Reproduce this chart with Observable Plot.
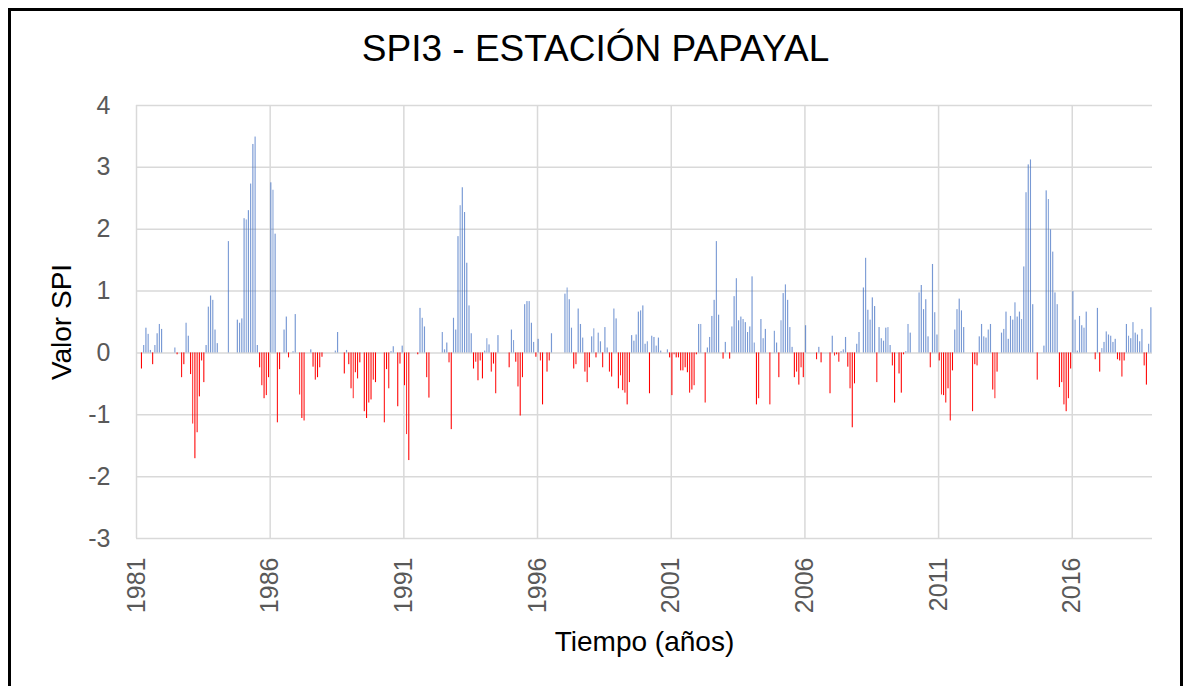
<!DOCTYPE html>
<html>
<head>
<meta charset="utf-8">
<script src="https://cdn.jsdelivr.net/npm/d3@7"></script>
<script src="https://cdn.jsdelivr.net/npm/@observablehq/plot@0.6"></script>
<style>
  html, body { margin: 0; padding: 0; background: #fff; overflow: hidden; }
  #wrap { position: relative; width: 1192px; height: 686px; overflow: hidden; }
  #chart { position: absolute; left: 0; top: 0; }
  #border { position: absolute; left: 8px; top: 8px; width: 1175px; height: 720px;
            border: 3px solid #000; box-sizing: border-box; }
  #title { position: absolute; left: 8px; top: 30px; width: 1175px; text-align: center;
           font-family: "Liberation Sans", Arial, sans-serif; font-size: 37px; line-height: 37px; color: #000; }
</style>
</head>
<body>
<div id="wrap">
  <div id="chart"></div>
  <div id="border"></div>
  <div id="title">SPI3 - ESTACIÓN PAPAYAL</div>
</div>
<script>
// Monthly SPI3 values, Jan 1981 – Dec 2018 (12 per row; first two months undefined)
const startYear = 1981;
const spi3 = [
  /*1981*/ null, null, -0.26, 0.12, 0.40, 0.30, 0.04, -0.19, 0.12, 0.31, 0.46, 0.38,
  /*1982*/ 0, 0, 0, 0, 0, 0.08, -0.03, 0, -0.40, -0.19, 0.48, 0.27,
  /*1983*/ -0.35, -1.15, -1.71, -1.29, -0.71, -0.13, -0.48, 0.12, 0.74, 0.92, 0.85, 0.37,
  /*1984*/ 0.15, 0, 0, 0, 0, 1.80, 0, 0, 0, 0.53, 0.48, 0.55,
  /*1985*/ 2.17, 2.15, 2.30, 2.73, 3.37, 3.49, 0.12, -0.24, -0.53, -0.74, -0.69, -0.40,
  /*1986*/ 2.75, 2.63, 1.92, -1.13, -0.27, 0, 0.37, 0.58, -0.08, 0, 0.02, 0.62,
  /*1987*/ 0, -0.68, -1.06, -1.10, 0, 0, 0.05, -0.23, -0.44, -0.40, -0.24, -0.07,
  /*1988*/ 0, 0, 0, 0, 0, 0.03, 0.33, 0, 0, -0.34, 0.04, -0.19,
  /*1989*/ -0.58, -0.74, -0.32, -0.42, -0.16, 0, -0.95, -1.06, -0.81, -0.76, -0.44, -0.48,
  /*1990*/ 0, 0, 0, -1.13, -0.27, -0.58, 0.02, 0.10, 0, -0.87, -0.18, 0.11,
  /*1991*/ -0.53, -1.32, -1.74, 0, 0, 0, -0.03, 0.72, 0.56, 0.42, -0.40, -0.73,
  /*1992*/ 0, 0, 0, 0, 0, 0.33, 0.05, 0.16, -0.16, -1.24, 0.56, 0.37,
  /*1993*/ 1.88, 2.38, 2.67, 2.27, 1.45, 0.76, 0.31, -0.26, -0.15, -0.45, -0.13, -0.42,
  /*1994*/ 0.03, 0.23, 0.13, -0.31, -0.18, -0.66, 0.28, 0, 0, 0, 0, -0.24,
  /*1995*/ 0.37, 0.20, -0.15, -0.55, -1.02, -0.40, 0.78, 0.83, 0.83, 0.48, 0.17, -0.07,
  /*1996*/ 0.22, -0.13, -0.84, 0, -0.31, -0.13, 0.31, 0, 0, 0, 0, 0,
  /*1997*/ 0.95, 1.05, 0.86, 0.40, -0.26, -0.19, 0.71, 0.46, 0.24, -0.31, -0.48, -0.24,
  /*1998*/ 0.26, 0.39, -0.08, 0.32, 0.18, -0.24, 0.41, 0.08, -0.31, -0.39, 0.71, 0.55,
  /*1999*/ -0.58, -0.37, -0.61, -0.65, -0.84, -0.48, 0.28, 0.19, 0.29, 0.66, 0.68, 0.76,
  /*2000*/ 0.14, 0.18, -0.66, 0.27, 0.25, 0.11, 0.24, 0.03, 0, 0, 0.05, -0.08,
  /*2001*/ -0.69, -0.03, -0.08, -0.08, -0.29, -0.29, -0.24, -0.32, -0.65, -0.60, -0.53, -0.03,
  /*2002*/ 0.46, 0.46, 0, -0.81, 0.08, 0.25, 0.59, 0.85, 1.80, 0.61, 0, -0.10,
  /*2003*/ 0.17, 0, -0.10, 0.42, 0.91, 1.20, 0.52, 0.58, 0.54, 0.49, 0.33, 0.42,
  /*2004*/ 1.23, 0.16, -0.84, -0.74, 0.54, 0.23, 0.38, 0, -0.84, 0, 0.35, 0.16,
  /*2005*/ -0.40, 0.52, 0.96, 1.10, 0.85, 0.41, 0.09, -0.40, -0.31, -0.52, -0.24, -0.40,
  /*2006*/ 0.44, 0, 0, 0, 0, -0.11, 0.09, -0.16, 0, 0, 0, -0.66,
  /*2007*/ 0.27, -0.05, -0.03, -0.15, 0.02, 0.05, 0.25, -0.23, -0.58, -1.21, -0.50, 0.14,
  /*2008*/ 0.33, 0, 1.05, 1.53, 0.69, 0.53, 0.89, 0.75, -0.48, 0.41, 0.23, 0.19,
  /*2009*/ 0.40, 0.41, 0.12, -0.21, -0.81, 0, -0.34, -0.65, -0.03, 0.02, 0.46, 0.32,
  /*2010*/ 0, 0, 0, 0.97, 1.09, 0.70, 0.86, 0.26, -0.24, 1.43, 0.65, 0.29,
  /*2011*/ -0.13, -0.68, -0.69, -0.81, -0.58, -1.10, -0.29, 0.37, 0.70, 0.87, 0.68, 0.41,
  /*2012*/ 0, 0, 0, -0.95, -0.19, -0.21, 0.26, 0.46, 0.26, 0.24, 0.37, 0.46,
  /*2013*/ -0.60, -0.74, -0.31, 0, 0.32, 0.38, 0.66, 0.22, 0.59, 0.53, 0.81, 0.58,
  /*2014*/ 0.66, 0.54, 1.39, 2.59, 3.04, 3.12, 0.78, 0, -0.44, 0, 0, 0.11,
  /*2015*/ 2.62, 2.48, 1.99, 1.63, 0.97, 0.78, -0.56, -0.48, -0.84, -0.95, -0.74, -0.26,
  /*2016*/ 0.99, 0.53, 0.03, 0.59, 0.44, 0.40, 0.66, 0, 0, 0, -0.11, 0.72,
  /*2017*/ -0.31, 0.07, 0.17, 0.34, 0.29, 0.27, 0.17, 0.22, -0.11, -0.13, -0.39, -0.13,
  /*2018*/ 0.46, 0.27, 0.23, 0.49, 0.32, 0.29, 0.18, 0.38, -0.21, -0.52, 0.14, 0.73
];
const yearTicks = [1981, 1986, 1991, 1996, 2001, 2006, 2011, 2016];
const valueTicks = [-3, -2, -1, 0, 1, 2, 3, 4];
const endYear = 2019;
const titleY = "Valor SPI";
const titleX = "Tiempo (años)";

const months = spi3.map((v, i) => ({
  start: new Date(Date.UTC(startYear, i, 1)),
  end: new Date(Date.UTC(startYear, i + 1, 1)),
  v
})).filter(d => d.v != null && d.v !== 0);
const pos = months.filter(d => d.v > 0);
const neg = months.filter(d => d.v < 0);
const yearDates = yearTicks.map(y => new Date(Date.UTC(y, 0, 1)));

const grid = {stroke: "#d9d9d9", strokeOpacity: 1, strokeWidth: 1.5};
const chart = Plot.plot({
  width: 1192,
  height: 686,
  marginLeft: 136,
  marginRight: 40,
  marginTop: 105,
  marginBottom: 148,
  style: {fontFamily: "'Liberation Sans', Arial, sans-serif", background: "transparent"},
  x: {type: "utc", domain: [new Date(Date.UTC(startYear, 0, 1)), new Date(Date.UTC(endYear, 0, 1))]},
  y: {domain: [-3, 4]},
  marks: [
    Plot.gridY(valueTicks, grid),
    Plot.gridX(yearDates, grid),
    Plot.rect(pos, {x1: "start", x2: "end", y1: () => 0, y2: "v", fill: "#4472C4", fillOpacity: 0.72, insetLeft: 0.55, insetRight: 0.55}),
    Plot.rect(neg, {x1: "start", x2: "end", y1: () => 0, y2: "v", fill: "#FF0000", insetLeft: 0.6, insetRight: 0.6}),
    Plot.axisY(valueTicks, {tickSize: 0, tickPadding: 26, fontSize: 25, color: "#595959", label: null,
      tickFormat: d => String(d)}),
    Plot.axisX(yearDates, {tickSize: 0, tickPadding: 19, tickRotate: -90, fontSize: 25, color: "#595959",
      tickFormat: d => String(d.getUTCFullYear()), label: null}),
    Plot.text([titleY], {text: d => d, frameAnchor: "left", rotate: -90, textAnchor: "middle",
      lineAnchor: "bottom", dx: -66, fontSize: 28, fill: "#000"}),
    Plot.text([titleX], {text: d => d, frameAnchor: "bottom", textAnchor: "middle",
      lineAnchor: "bottom", dy: 112, fontSize: 28, fill: "#000"})
  ]
});
document.getElementById("chart").appendChild(chart);
</script>
</body>
</html>
